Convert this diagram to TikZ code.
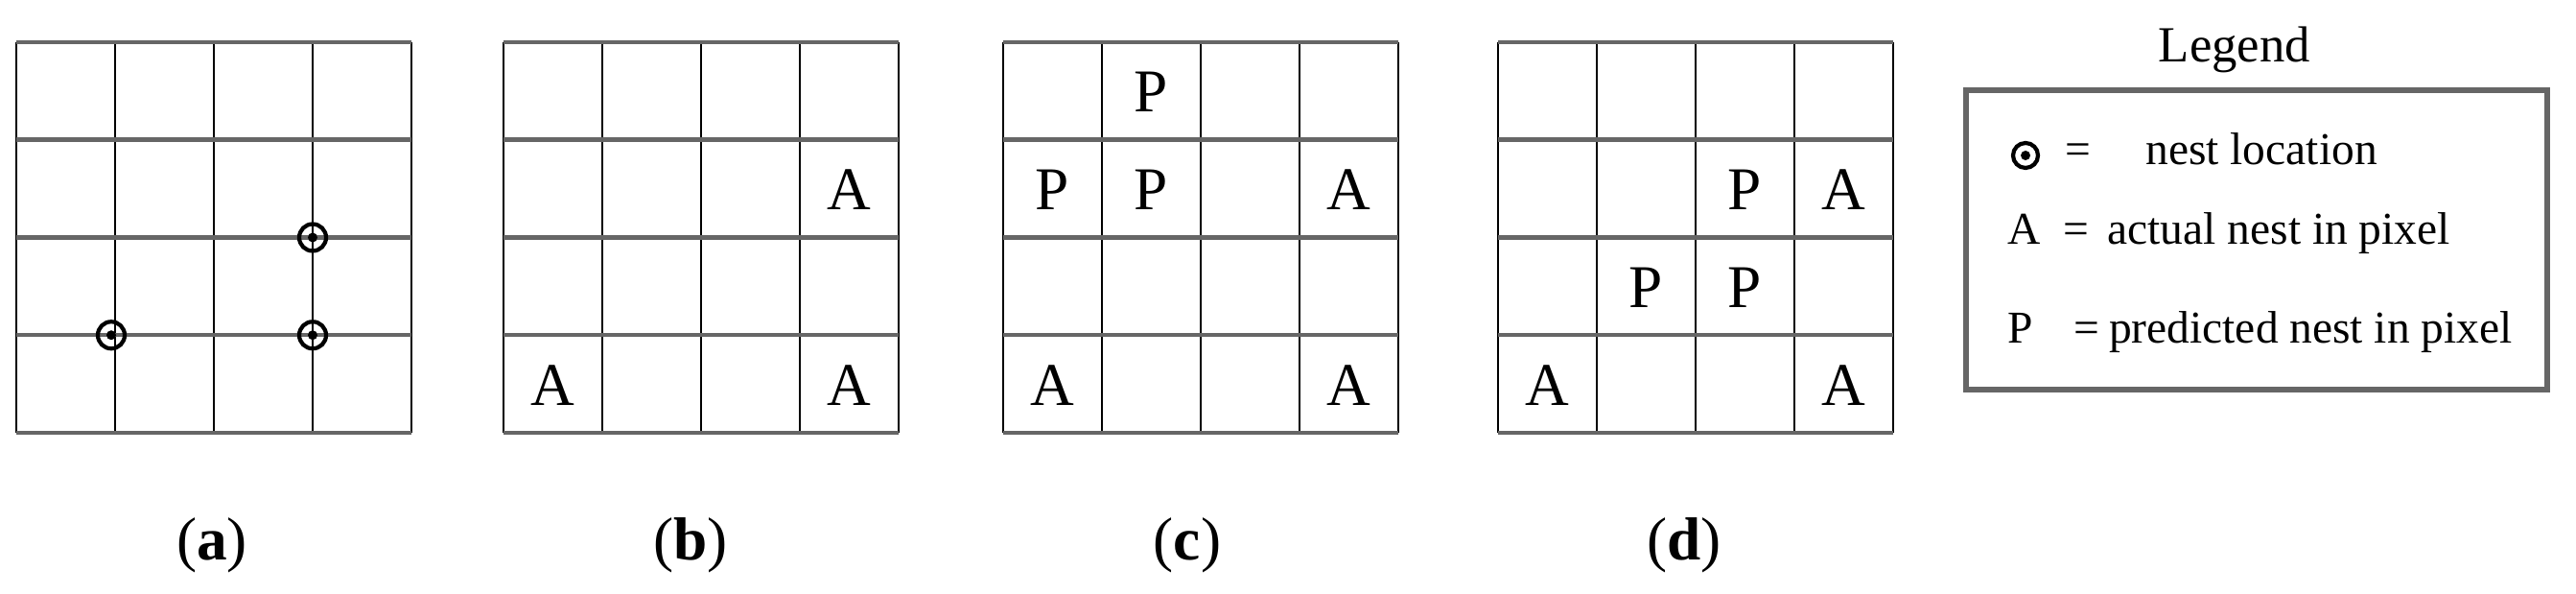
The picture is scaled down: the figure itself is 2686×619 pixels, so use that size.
\documentclass[tikz,border=0pt]{standalone}
\usepackage{fontspec}
\setmainfont{Liberation Serif}
\begin{document}
\begin{tikzpicture}[x=0.01cm,y=-0.01cm,
  hline/.style={draw=black!60,line width=4.5*0.2845pt},
  vline/.style={draw=black,line width=2*0.2845pt},
  cell/.style={font=\fontsize{18}{20}\selectfont,inner sep=0pt},
  lab/.style={font=\fontsize{18}{20}\selectfont,inner sep=0pt},
  leg/.style={font=\fontsize{13.5}{15}\selectfont,inner sep=0pt,anchor=base west}]
\useasboundingbox (0,0) rectangle (2686,619);
% grids
\foreach \gx/\gn in {17/a,525/b,1046/c,1562/d}{
  \foreach \i in {0,...,4}{
    \draw[vline] ({\gx+\i*103},44) -- ({\gx+\i*103},451);
  }
  \foreach \j in {0,...,4}{
    \draw[hline] (\gx,{44+\j*101.75}) -- ({\gx+412},{44+\j*101.75});
  }
}
% nests in (a)
\foreach \px/\py in {326/247.5, 116/349.25, 326/349.25}{
  \draw[line width=1.2pt] (\px,\py) circle[radius=14];
  \fill (\px,\py) circle[radius=5];
}
% letters
\newcommand{\cellat}[4]{\node[cell] (#1) at ({#2+#3*103+51.5},{44+#4*101.75+52}) {#1};}
\node[cell] (b13) at ({525+3*103+51.5},{44+1*101.75+52}) {A};
\node[cell] (b30) at ({525+0*103+51.5},{44+3*101.75+52}) {A};
\node[cell] (b33) at ({525+3*103+51.5},{44+3*101.75+52}) {A};
\node[cell] (c01) at ({1046+1*103+51.5},{44+0*101.75+52}) {P};
\node[cell] (c10) at ({1046+0*103+51.5},{44+1*101.75+52}) {P};
\node[cell] (c11) at ({1046+1*103+51.5},{44+1*101.75+52}) {P};
\node[cell] (c13) at ({1046+3*103+51.5},{44+1*101.75+52}) {A};
\node[cell] (c30) at ({1046+0*103+51.5},{44+3*101.75+52}) {A};
\node[cell] (c33) at ({1046+3*103+51.5},{44+3*101.75+52}) {A};
\node[cell] (d12) at ({1562+2*103+51.5},{44+1*101.75+52}) {P};
\node[cell] (d13) at ({1562+3*103+51.5},{44+1*101.75+52}) {A};
\node[cell] (d21) at ({1562+1*103+51.5},{44+2*101.75+52}) {P};
\node[cell] (d22) at ({1562+2*103+51.5},{44+2*101.75+52}) {P};
\node[cell] (d30) at ({1562+0*103+51.5},{44+3*101.75+52}) {A};
\node[cell] (d33) at ({1562+3*103+51.5},{44+3*101.75+52}) {A};
% sub-labels
\node[lab] (la) at (221,568) {(\textbf{a})};
\node[lab] (lb) at (720,568) {(\textbf{b})};
\node[lab] (lc) at (1238,568) {(\textbf{c})};
\node[lab] (ld) at (1756,568) {(\textbf{d})};
% legend
\node[font=\fontsize{15}{17}\selectfont,inner sep=0pt] (lt) at (2330,52) {Legend};
\draw[draw=black!60,line width=1.6pt] (2050,94) rectangle (2656,406);
\draw[line width=1.2pt] (2112,162) circle[radius=13];
\fill (2112,162) circle[radius=5];
\node[leg] (l1) at (2153,172) {=\hspace{1.2em}nest location};
\node[leg] (l2) at (2093,255) {A\hspace{0.5em}=\hspace{0.4em}actual nest in pixel};
\node[leg] (l3) at (2093,358) {P\hspace{0.9em}=\hspace{0.2em}predicted nest in pixel};
\end{tikzpicture}
\end{document}
